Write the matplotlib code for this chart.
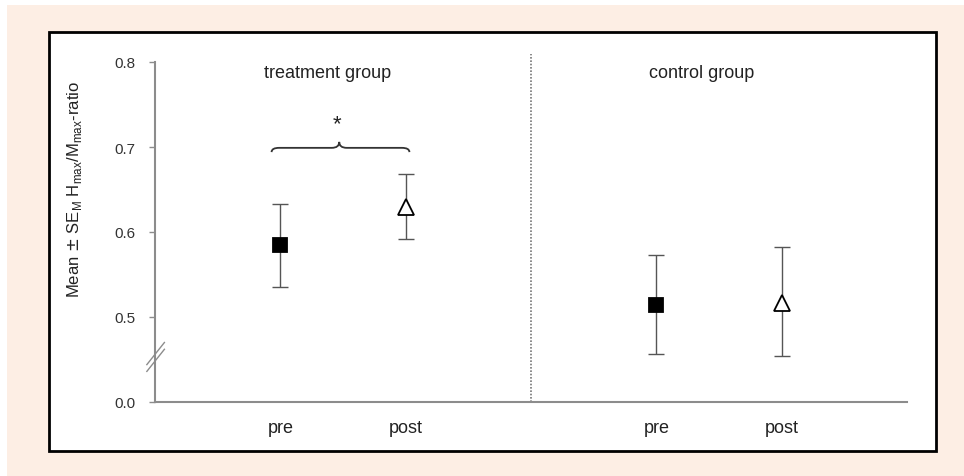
import numpy as np
import matplotlib.pyplot as plt
from matplotlib.path import Path
from matplotlib.patches import PathPatch, Rectangle

plt.rcParams['font.family'] = ['Liberation Sans', 'DejaVu Sans']

# data (y axis is broken: 0.0 sits where 0.4 would be)
groups = ['treatment group', 'control group']
x_pos = [1, 2, 4, 5]
x_labels = ['pre', 'post', 'pre', 'post']
means = [0.585, 0.629, 0.514, 0.516]
upper = [0.633, 0.668, 0.573, 0.582]
lower = [0.535, 0.592, 0.456, 0.454]
markers = ['s', '^', 's', '^']
fills = ['black', 'white', 'black', 'white']
y_ticks = [0.4, 0.5, 0.6, 0.7, 0.8]
y_tick_labels = ['0.0', '0.5', '0.6', '0.7', '0.8']

W, H = 964, 477
fig = plt.figure(figsize=(W / 100, H / 100), dpi=100)
fig.patch.set_facecolor('white')

# peach background and black frame
fig.add_artist(Rectangle((7 / W, 0), 1, 1 - 6 / H, transform=fig.transFigure,
                         facecolor='#fdeee4', edgecolor='none', zorder=0))
fig.add_artist(Rectangle((49 / W, 1 - 452 / H), (936 - 49) / W, (452 - 33) / H,
                         transform=fig.transFigure, facecolor='white',
                         edgecolor='black', linewidth=2, zorder=1))

ax = fig.add_axes([155 / W, 1 - 403 / H, (907 - 155) / W, (403 - 63) / H])
ax.set_facecolor('none')
ax.set_zorder(2)
ax.set_xlim(0, 6)
ax.set_ylim(0.4, 0.8)

grey = '#8c8c8c'
for s in ['top', 'right']:
    ax.spines[s].set_visible(False)
for s in ['left', 'bottom']:
    ax.spines[s].set_color(grey)
    ax.spines[s].set_linewidth(1.5)

ax.set_yticks(y_ticks)
ax.set_yticklabels(y_tick_labels)
ax.tick_params(axis='y', colors=grey, length=4, width=1, labelsize=11,
               labelcolor='#333333', pad=10)
ax.set_xticks(x_pos)
ax.set_xticklabels(x_labels)
ax.tick_params(axis='x', length=0, labelsize=13, labelcolor='#222222', pad=12)

for x, m, u, lo, mk, fc in zip(x_pos, means, upper, lower, markers, fills):
    ax.errorbar(x, m, yerr=[[m - lo], [u - m]], fmt='none', ecolor='#555555',
                elinewidth=1, capsize=6, capthick=1)
    ax.plot(x, m, marker=mk, markersize=9.5 if mk == 's' else 11,
            markerfacecolor=fc, markeredgecolor='black', markeredgewidth=1.3,
            linestyle='none', zorder=5)

# dotted separator between the groups
ax.plot([3, 3], [0.4, 0.81], linestyle=(0, (1, 1)), color='#777777',
        linewidth=1.2, clip_on=False)

ax.text(1.38, 0.788, groups[0], ha='center', va='center', fontsize=13, color='#222222')
ax.text(4.36, 0.788, groups[1], ha='center', va='center', fontsize=13, color='#222222')

# curly brace with asterisk
x0, x1 = 0.93, 2.03
xm = 1.47
yb, yf, yc = 0.694, 0.699, 0.706
verts = [(x0, yb), (x0, yf), (x0 + 0.06, yf), (xm - 0.06, yf), (xm, yf), (xm, yc),
         (xm, yf), (xm + 0.06, yf), (x1 - 0.06, yf), (x1, yf), (x1, yb)]
codes = [Path.MOVETO, Path.CURVE3, Path.CURVE3, Path.LINETO, Path.CURVE3, Path.CURVE3,
         Path.CURVE3, Path.CURVE3, Path.LINETO, Path.CURVE3, Path.CURVE3]
ax.add_patch(PathPatch(Path(verts, codes), facecolor='none', edgecolor='#333333',
                       linewidth=1.3, clip_on=False))
ax.text(xm - 0.02, 0.727, '*', ha='center', va='center', fontsize=16, color='#222222')

# axis break mark
for dy in (-0.004, 0.004):
    ax.plot([-0.065, 0.075], [0.453 + dy - 0.013, 0.453 + dy + 0.013], color=grey,
            linewidth=1, clip_on=False)

fig.text(75 / W, 1 - 190 / H, r'Mean $\pm$ SE$_\mathregular{M}$ H$_\mathregular{max}$/M$_\mathregular{max}$-ratio',
         rotation=90, ha='center', va='center', fontsize=12, color='#222222')

fig.savefig('out.png', dpi=100, facecolor=fig.get_facecolor())
